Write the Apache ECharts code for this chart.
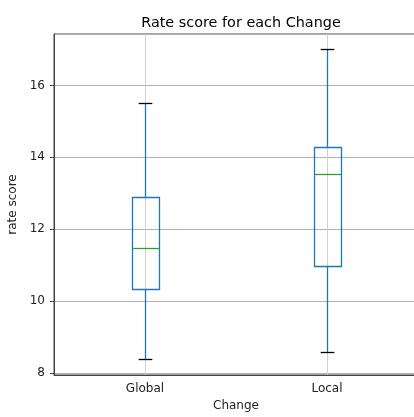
<!DOCTYPE html>
<html>
<head>
<meta charset="utf-8">
<script src="https://cdn.jsdelivr.net/npm/echarts@6/dist/echarts.min.js"></script>
<style>
  html, body { margin: 0; padding: 0; background: #fff; }
  #chart { width: 414px; height: 417px; }
</style>
</head>
<body>
<div id="chart"></div>
<script>
// Five-number summaries per group
const categories = ['Global', 'Local'];
const lowWhisker = [8.39, 8.58];
const q1 = [10.32, 10.96];
const median = [11.47, 13.53];
const q3 = [12.88, 14.28];
const highWhisker = [15.5, 17.0];

const BLUE = '#1f77b4';
const GREEN = '#2ca02c';
const FONT = 'DejaVu Sans';

const boxData = categories.map((c, i) => [i, lowWhisker[i], q1[i], median[i], q3[i], highWhisker[i]]);

function renderBox(params, api) {
  const idx = api.value(0);
  const lo = api.coord([idx, api.value(1)]);
  const b1 = api.coord([idx, api.value(2)]);
  const md = api.coord([idx, api.value(3)]);
  const b3 = api.coord([idx, api.value(4)]);
  const hi = api.coord([idx, api.value(5)]);
  const band = api.size([1, 0])[0];
  const boxW = band * 0.15;
  const capHalf = boxW / 4;
  const cx = Math.round(lo[0]) + 0.5;
  const snap = v => Math.round(v) + 0.5;
  const line = (x1, y1, x2, y2, color) => ({
    type: 'line',
    shape: { x1, y1, x2, y2 },
    style: { stroke: color, lineWidth: 1.3 }
  });
  return {
    type: 'group',
    children: [
      line(cx, snap(b1[1]), cx, snap(lo[1]), BLUE),
      line(cx, snap(b3[1]), cx, snap(hi[1]), BLUE),
      {
        type: 'rect',
        shape: { x: snap(cx - boxW / 2), y: snap(b3[1]), width: Math.round(boxW), height: Math.round(b1[1]) - Math.round(b3[1]) },
        style: { fill: 'none', stroke: BLUE, lineWidth: 1.3 }
      },
      line(snap(cx - boxW / 2), snap(md[1]), snap(cx + boxW / 2), snap(md[1]), GREEN),
      line(cx - capHalf, snap(lo[1]), cx + capHalf, snap(lo[1]), '#000'),
      line(cx - capHalf, snap(hi[1]), cx + capHalf, snap(hi[1]), '#000')
    ]
  };
}

const chart = echarts.init(document.getElementById('chart'), null, { renderer: 'canvas' });
chart.setOption({
  animation: false,
  backgroundColor: '#fff',
  title: {
    text: 'Rate score for each Change',
    left: 236,
    textAlign: 'center',
    top: 11,
    textStyle: { fontFamily: FONT, fontSize: 14.4, fontWeight: 'normal', color: '#000' }
  },
  grid: {
    left: 54, right: -4, top: 34, bottom: 42,
    outerBoundsMode: 'none',
    containLabel: false,
    show: true, borderColor: '#444', borderWidth: 1, backgroundColor: 'transparent'
  },
  xAxis: {
    type: 'category',
    data: categories,
    boundaryGap: true,
    name: 'Change',
    nameLocation: 'middle',
    nameGap: 25,
    nameTextStyle: { fontFamily: FONT, fontSize: 12, color: '#222' },
    axisLine: { lineStyle: { color: '#444', width: 1 } },
    axisTick: { alignWithLabel: true, length: 4, lineStyle: { color: '#444' } },
    axisLabel: { fontFamily: FONT, fontSize: 12, color: '#222', margin: 8 },
    splitLine: { show: true, alignWithLabel: true, lineStyle: { color: '#d0d0d0', width: 1 } }
  },
  yAxis: {
    type: 'value',
    min: 7.94,
    max: 17.43,
    name: 'rate score',
    nameLocation: 'middle',
    nameGap: 28,
    nameTextStyle: { fontFamily: FONT, fontSize: 12, color: '#222' },
    axisLine: { show: true, lineStyle: { color: '#444', width: 1 } },
    axisTick: { show: true, length: 4, lineStyle: { color: '#444' } },
    axisLabel: { fontFamily: FONT, fontSize: 12, color: '#222', margin: 9, showMinLabel: false, showMaxLabel: false },
    splitLine: { show: true, lineStyle: { color: '#b0b0b0', width: 1 } }
  },
  series: [{
    type: 'custom',
    data: boxData,
    encode: { x: 0, y: [1, 2, 3, 4, 5] },
    renderItem: renderBox,
    clip: false
  }]
});
</script>
</body>
</html>
